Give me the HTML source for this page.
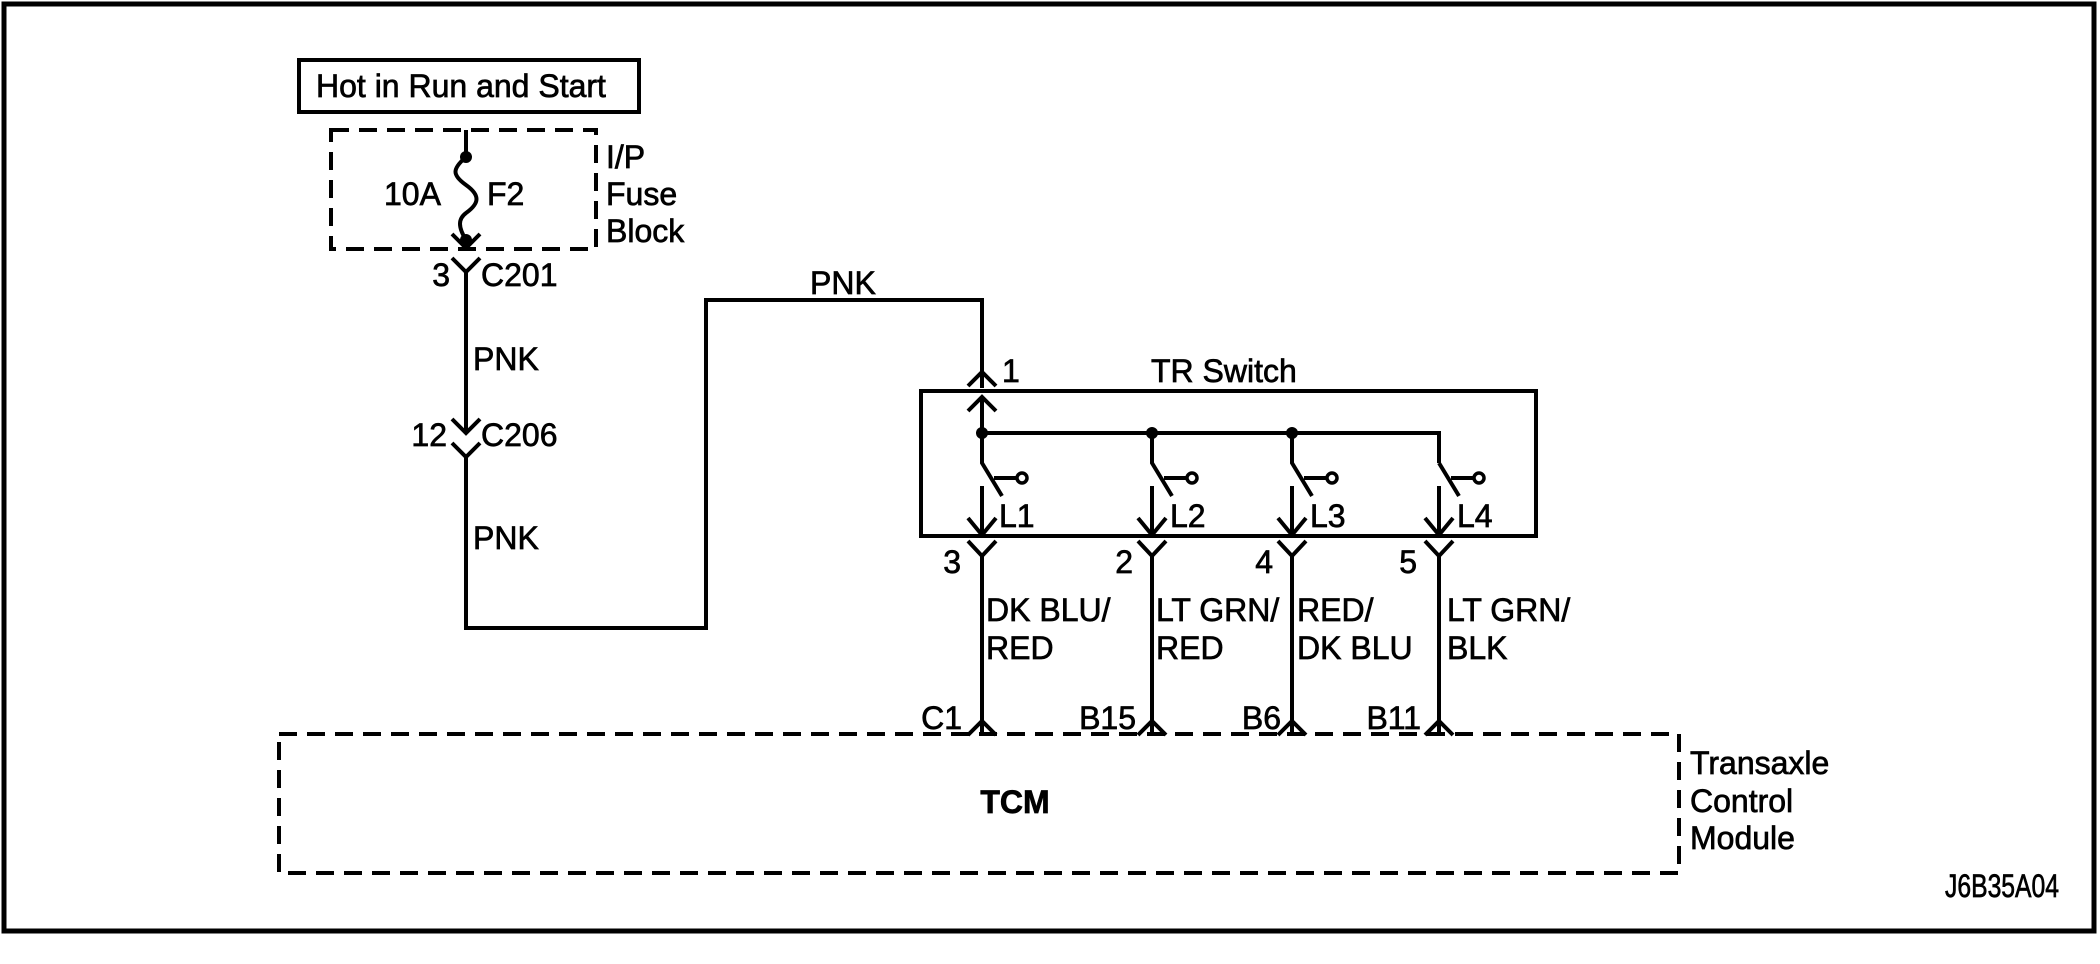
<!DOCTYPE html>
<html><head><meta charset="utf-8"><style>
html,body{margin:0;padding:0;background:#fff;}
svg{display:block;}
text{font-family:"Liberation Sans",Arial,sans-serif;font-size:32px;fill:#000;stroke:#000;stroke-width:0.7;}
</style></head><body>
<svg width="2100" height="964" viewBox="0 0 2100 964" xmlns="http://www.w3.org/2000/svg">
<g fill="none" stroke="#000" stroke-width="4">
<rect x="4" y="4" width="2090" height="927" stroke-width="5"/>
<rect x="299" y="60" width="340" height="52"/>
<rect x="331" y="130" width="265" height="119" stroke-dasharray="18,10"/>
<rect x="279" y="734" width="1400" height="139" stroke-dasharray="18,10"/>
<rect x="921" y="391" width="615" height="145"/>
<path d="M466 130 V157"/>
<path d="M466 157 c-14 12 -14 18 0 28 c14 10 14 18 0 28 c-8 6 -8 14 0 27"/>
<path d="M466 240 V249 M452 234 L466 248 L480 234"/>
<path d="M452 258 L466 272 L480 258 M466 272 V433 M452 419 L466 433 L480 419"/>
<path d="M452 443 L466 457 L480 443 M466 457 V628 H706 V300 H982 V388 M968 386 L982 372 L996 386"/>
<path d="M982 433 V398 M968 411 L982 397 L996 411"/>
<path d="M982 433 H1439 V463"/>
</g>
<g fill="#000">
<circle cx="466" cy="157" r="6"/><circle cx="466" cy="240" r="6"/>
<circle cx="982" cy="433" r="6"/><circle cx="1152" cy="433" r="6"/><circle cx="1292" cy="433" r="6"/>
</g>
<g fill="none" stroke="#000" stroke-width="4">
<path d="M982 433 V463 L1002 496 M994 478 H1017 M982 486 V535 M968 518 L982 535 L996 518 M968 541 L982 556 L996 541 M982 556 V734 M968 735 L982 721 L996 735"/>
<path d="M1152 433 V463 L1172 496 M1164 478 H1187 M1152 486 V535 M1138 518 L1152 535 L1166 518 M1138 541 L1152 556 L1166 541 M1152 556 V734 M1138 735 L1152 721 L1166 735"/>
<path d="M1292 433 V463 L1312 496 M1304 478 H1327 M1292 486 V535 M1278 518 L1292 535 L1306 518 M1278 541 L1292 556 L1306 541 M1292 556 V734 M1278 735 L1292 721 L1306 735"/>
<path d="M1439 463 L1459 496 M1451 478 H1474 M1439 486 V535 M1425 518 L1439 535 L1453 518 M1425 541 L1439 556 L1453 541 M1439 556 V734 M1425 735 L1439 721 L1453 735"/>
<circle cx="1022" cy="478" r="5" stroke-width="3.5"/><circle cx="1192" cy="478" r="5" stroke-width="3.5"/>
<circle cx="1332" cy="478" r="5" stroke-width="3.5"/><circle cx="1479" cy="478" r="5" stroke-width="3.5"/>
</g>
<text x="316" y="97">Hot in Run and Start</text>
<text x="384" y="205">10A</text><text x="487" y="205">F2</text>
<text x="606" y="168">I/P</text><text x="606" y="205">Fuse</text><text x="606" y="242">Block</text>
<text x="450" y="286" text-anchor="end">3</text><text x="481" y="286">C201</text>
<text x="447" y="446" text-anchor="end">12</text><text x="481" y="446">C206</text>
<text x="473" y="370">PNK</text>
<text x="473" y="549">PNK</text>
<text x="810" y="294">PNK</text>
<text x="1002" y="382">1</text>
<text x="1151" y="382">TR Switch</text>
<text x="999" y="527">L1</text><text x="1170" y="527">L2</text><text x="1310" y="527">L3</text><text x="1457" y="527">L4</text>
<text x="961" y="573" text-anchor="end">3</text><text x="1133" y="573" text-anchor="end">2</text><text x="1273" y="573" text-anchor="end">4</text><text x="1417" y="573" text-anchor="end">5</text>
<text x="986" y="621">DK BLU/</text><text x="986" y="659">RED</text>
<text x="1156" y="621">LT GRN/</text><text x="1156" y="659">RED</text>
<text x="1297" y="621">RED/</text><text x="1297" y="659">DK BLU</text>
<text x="1447" y="621">LT GRN/</text><text x="1447" y="659">BLK</text>
<text x="962" y="729" text-anchor="end">C1</text><text x="1136" y="729" text-anchor="end">B15</text><text x="1281" y="729" text-anchor="end">B6</text><text x="1421" y="729" text-anchor="end">B11</text>
<text x="1015" y="813" font-weight="bold" text-anchor="middle">TCM</text>
<text x="1690" y="774">Transaxle</text><text x="1690" y="812">Control</text><text x="1690" y="849">Module</text>
<text x="1945" y="897" font-size="21" stroke-width="0.4" textLength="114" lengthAdjust="spacingAndGlyphs">J6B35A04</text>
</svg>
</body></html>
